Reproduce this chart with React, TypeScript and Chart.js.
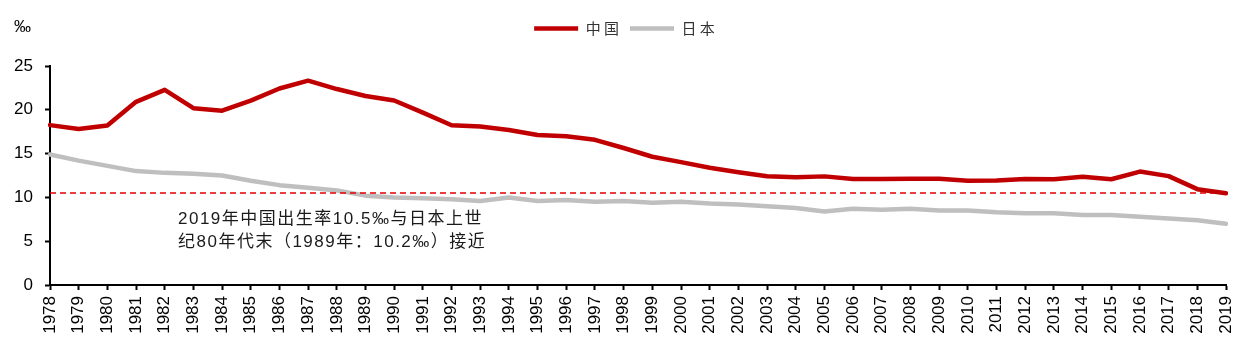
import React, { useEffect, useRef } from "react";
import { Chart, registerables } from "chart.js";

Chart.register(...registerables);

const years: string[] = [
  "1978","1979","1980","1981","1982","1983","1984","1985","1986","1987",
  "1988","1989","1990","1991","1992","1993","1994","1995","1996","1997",
  "1998","1999","2000","2001","2002","2003","2004","2005","2006","2007",
  "2008","2009","2010","2011","2012","2013","2014","2015","2016","2017",
  "2018","2019",
];

const china: number[] = [
  18.25, 17.82, 18.21, 20.91, 22.28, 20.19, 19.9, 21.04, 22.43, 23.33,
  22.37, 21.58, 21.06, 19.68, 18.24, 18.09, 17.7, 17.12, 16.98, 16.57,
  15.64, 14.64, 14.03, 13.38, 12.86, 12.41, 12.29, 12.4, 12.09, 12.1,
  12.14, 12.13, 11.9, 11.93, 12.1, 12.08, 12.37, 12.07, 12.95, 12.43,
  10.94, 10.48,
];

const japan: number[] = [
  14.9, 14.2, 13.6, 13.0, 12.8, 12.7, 12.5, 11.9, 11.4, 11.1,
  10.8, 10.2, 10.0, 9.9, 9.8, 9.6, 10.0, 9.6, 9.7, 9.5,
  9.6, 9.4, 9.5, 9.3, 9.2, 9.0, 8.8, 8.4, 8.7, 8.6,
  8.7, 8.5, 8.5, 8.3, 8.2, 8.2, 8.0, 8.0, 7.8, 7.6,
  7.4, 7.0,
];

const referenceLevel = 10.5;
const referenceLine: number[] = years.map(() => referenceLevel);

const seriesNames = ["中 国", "日 本"];
const yUnit = "‰";
const annotationLines = [
  "2019年中国出生率10.5‰与日本上世",
  "纪80年代末（1989年：10.2‰）接近",
];

const textPlugin = {
  id: "extraText",
  afterDraw(chart: any) {
    const ctx = chart.ctx as CanvasRenderingContext2D;
    ctx.save();
    ctx.fillStyle = "#000";
    ctx.textBaseline = "middle";
    ctx.textAlign = "left";
    ctx.font = "17px 'Liberation Sans', Arial, sans-serif";
    ctx.fillText(yUnit, 14, 27);
    ctx.fillStyle = "#1a1a1a";
    ctx.font = "17px 'Liberation Sans', 'Noto Sans CJK SC', sans-serif";
    (ctx as any).letterSpacing = "1.5px";
    ctx.fillText(annotationLines[0], 178, 219);
    ctx.fillText(annotationLines[1], 178, 242);
    ctx.restore();
  },
};

export default function App() {
  const ref = useRef<HTMLCanvasElement | null>(null);

  useEffect(() => {
    document.body.style.margin = "0";
    if (!ref.current) return;
    const chart = new Chart(ref.current, {
      type: "line",
      data: {
        labels: years,
        datasets: [
          {
            label: seriesNames[0],
            data: china,
            borderColor: "#C00000",
            backgroundColor: "#C00000",
            borderWidth: 4.5,
            pointRadius: 0,
            tension: 0,
            borderCapStyle: "round",
            borderJoinStyle: "round",
            order: 1,
          },
          {
            label: seriesNames[1],
            data: japan,
            borderColor: "#BFBFBF",
            backgroundColor: "#BFBFBF",
            borderWidth: 4.5,
            pointRadius: 0,
            tension: 0,
            borderCapStyle: "round",
            borderJoinStyle: "round",
            order: 3,
          },
          {
            label: "ref",
            data: referenceLine,
            borderColor: "#E00000",
            backgroundColor: "#E00000",
            borderWidth: 1.5,
            borderDash: [6, 4],
            pointRadius: 0,
            order: 2,
          },
        ],
      },
      options: {
        animation: false,
        responsive: false,
        maintainAspectRatio: false,
        layout: { padding: { top: 10, left: 0, right: 0, bottom: 0 } },
        plugins: {
          legend: {
            position: "top",
            labels: {
              filter: (item: any) => item.text !== "ref",
              usePointStyle: true,
              pointStyle: "line",
              pointStyleWidth: 44,
              padding: 11,
              color: "#333",
              font: { size: 15, family: "'Noto Sans CJK SC', sans-serif" },
            },
          },
          subtitle: {
            display: true,
            text: "",
            position: "top",
            weight: 500,
            font: { size: 10, lineHeight: 1.2 },
            padding: { top: 8, bottom: 0 },
          },
          tooltip: { enabled: false },
        },
        scales: {
          x: {
            type: "category",
            offset: false,
            grid: {
              display: true,
              drawOnChartArea: false,
              drawTicks: true,
              tickLength: 5,
              tickWidth: 2,
              tickColor: "#000",
              color: "#000",
            },
            border: { display: true, color: "#000", width: 2 },
            ticks: {
              autoSkip: false,
              maxRotation: 90,
              minRotation: 90,
              padding: 6,
              color: "#000",
              font: { size: 17, family: "'Liberation Sans', Arial, sans-serif" },
            },
            afterFit: (s: any) => {
              s.height = 66;
              s.paddingLeft = 0;
              s.paddingRight = 23;
            },
          },
          y: {
            min: 0,
            max: 25,
            grid: {
              display: true,
              drawOnChartArea: false,
              drawTicks: true,
              tickLength: 5,
              tickWidth: 2,
              tickColor: "#000",
              color: "#000",
            },
            border: { display: true, color: "#000", width: 2 },
            ticks: {
              stepSize: 5,
              padding: 12,
              color: "#000",
              font: { size: 17, family: "'Liberation Sans', Arial, sans-serif" },
            },
            afterFit: (s: any) => {
              s.width = 50;
            },
          },
        },
      },
      plugins: [textPlugin],
    });
    return () => chart.destroy();
  }, []);

  return (
    <div style={{ width: 1249, height: 351, background: "#fff" }}>
      <canvas ref={ref} width={1249} height={351} style={{ display: "block" }} />
    </div>
  );
}
